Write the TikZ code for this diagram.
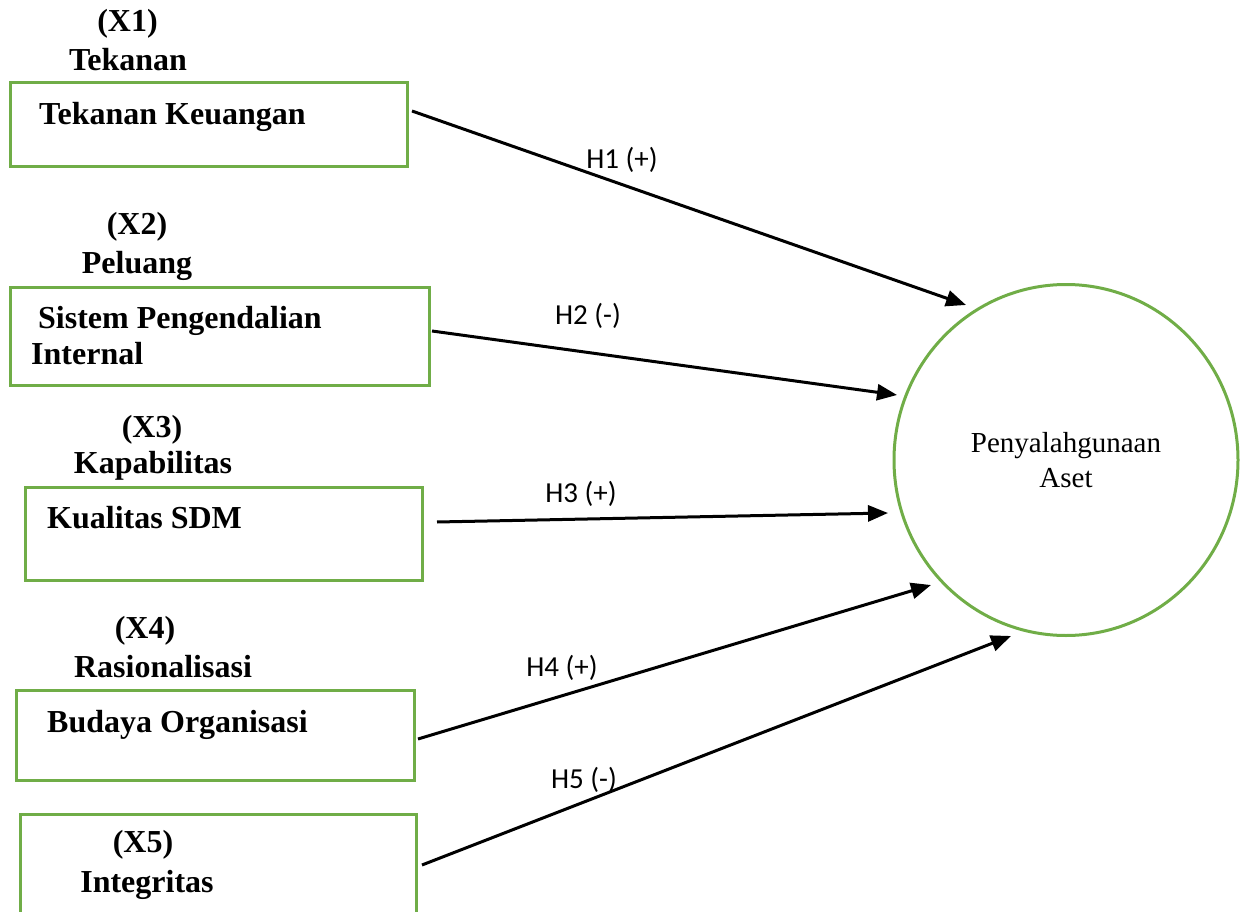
\documentclass[tikz,border=0pt]{standalone}
\usepackage{fontspec}
\setmainfont{Liberation Serif}
\newfontfamily\labfont{Carlito}
\usetikzlibrary{arrows.meta,shapes.geometric}
\definecolor{boxgreen}{HTML}{70AD47}
\begin{document}
\begin{tikzpicture}[x=1pt,y=-1pt,
  varbox/.style={draw=boxgreen,line width=3pt,minimum width=#1,inner sep=0pt},
  head/.style={anchor=base,font=\fontsize{32}{36}\selectfont\bfseries,inner sep=0pt},
  boxtext/.style={anchor=base west,font=\fontsize{32}{36}\selectfont\bfseries,inner sep=0pt},
  hyp/.style={font=\labfont\fontsize{29}{32}\selectfont,inner sep=0pt},
  link/.style={line width=3pt,-{Triangle[length=20pt,width=16pt]}}]
\clip (0,0) rectangle (1245,912);
\useasboundingbox (0,0) rectangle (1245,912);

% variable boxes
\node[varbox=397pt,minimum height=84pt] (b1) at (208.5,125) {};
\node[varbox=419pt,minimum height=98pt] (b2) at (219.5,336) {};
\node[varbox=397pt,minimum height=93pt] (b3) at (223.5,533.5) {};
\node[varbox=398pt,minimum height=90pt] (b4) at (215,735) {};
\node[varbox=396pt,minimum height=146pt] (b5) at (218,887) {};

% headings and indicators
\node[head] (h1a) at (127.5,32) {(X1)};
\node[head] (h1b) at (128,71) {Tekanan};
\node[boxtext] (t1) at (39,125) {Tekanan Keuangan};

\node[head] (h2a) at (137,235) {(X2)};
\node[head] (h2b) at (137,273) {Peluang};
\node[boxtext] (t2a) at (38,328) {Sistem Pengendalian};
\node[boxtext] (t2b) at (31,364) {Internal};

\node[head] (h3a) at (152,437) {(X3)};
\node[head] (h3b) at (153,473) {Kapabilitas};
\node[boxtext] (t3) at (47,528) {Kualitas SDM};

\node[head] (h4a) at (145,638) {(X4)};
\node[head] (h4b) at (163,677) {Rasionalisasi};
\node[boxtext] (t4) at (47,732) {Budaya Organisasi};

\node[head] (h5a) at (143,852) {(X5)};
\node[head] (h5b) at (147,892) {Integritas};

% dependent variable
\node[draw=boxgreen,line width=3pt,ellipse,minimum width=344pt,minimum height=351pt,inner sep=0pt,
  align=center,font=\fontsize{29}{35}\selectfont] (y) at (1066,460) {Penyalahgunaan\\Aset};

% connector end points
\coordinate (s1) at (412,111);
\coordinate (e1) at (966,305);
\coordinate (s2) at (432,331);
\coordinate (e2) at (897,395);
\coordinate (s3) at (437,522);
\coordinate (e3) at (888,513);
\coordinate (s4) at (418,739);
\coordinate (e4) at (931,585);
\coordinate (s5) at (422,865);
\coordinate (e5) at (1011,636);

\draw[link] (s1) -- (e1);
\draw[link] (s2) -- (e2);
\draw[link] (s3) -- (e3);
\draw[link] (s4) -- (e4);
\draw[link] (s5) -- (e5);

% hypothesis labels
\node[hyp] (l1) at (622,160) {H1 (+)};
\node[hyp] (l2) at (588,316) {H2 (-)};
\node[hyp] (l3) at (581,494) {H3 (+)};
\node[hyp] (l4) at (562,668) {H4 (+)};
\node[hyp] (l5) at (584,780) {H5 (-)};
\end{tikzpicture}
\end{document}
